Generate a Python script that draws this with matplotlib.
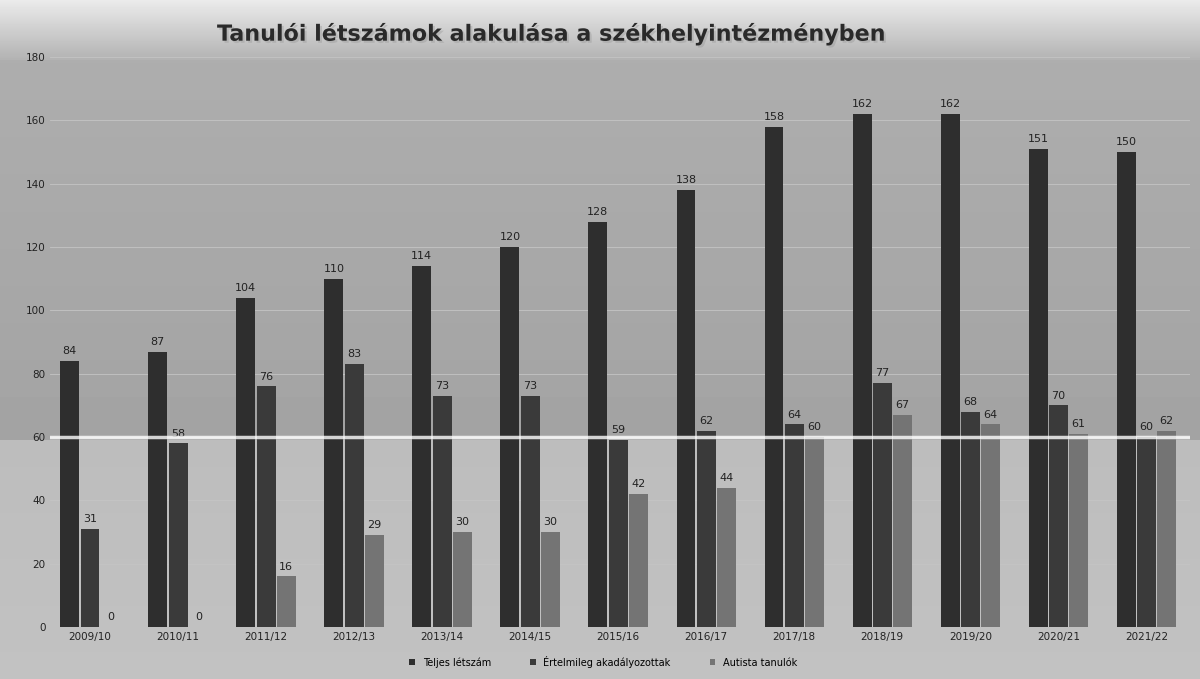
import numpy as np
import matplotlib
matplotlib.use("Agg")
from matplotlib import pyplot as plt
import matplotlib.patheffects as pe

years = ["2009/10", "2010/11", "2011/12", "2012/13", "2013/14", "2014/15", "2015/16",
         "2016/17", "2017/18", "2018/19", "2019/20", "2020/21", "2021/22"]
teljes = [84, 87, 104, 110, 114, 120, 128, 138, 158, 162, 162, 151, 150]
ertelmileg = [31, 58, 76, 83, 73, 73, 59, 62, 64, 77, 68, 70, 60]
autista = [0, 0, 16, 29, 30, 30, 42, 44, 60, 67, 64, 61, 62]

series_names = ["Teljes létszám", "Értelmileg akadályozottak", "Autista tanulók"]
colors = ["#2e2e2e", "#3a3a3a", "#747474"]

fig = plt.figure(figsize=(12, 6.79), dpi=100)

# background gradient (scanned grey look)
bg = fig.add_axes([0, 0, 1, 1], zorder=-10)
grad = np.concatenate([np.linspace(0.92, 0.70, 60), np.linspace(0.68, 0.64, 380),
                       np.linspace(0.74, 0.76, 239)])
bg.imshow(grad[:, None], aspect="auto", cmap="gray", vmin=0, vmax=1, extent=[0, 1, 0, 1])
bg.axis("off")

ax = fig.add_axes([0.042, 0.0766, 0.95, 0.8394])
ax.set_facecolor("none")

x = np.arange(len(years))
w = 0.215
off = 0.23
for i, (vals, name, c) in enumerate(zip([teljes, ertelmileg, autista], series_names, colors)):
    bars = ax.bar(x + (i - 1) * off, vals, width=w, color=c, label=name, zorder=3)
    for b, v in zip(bars, vals):
        ax.text(b.get_x() + b.get_width() / 2, v + 1.5, str(v), ha="center", va="bottom",
                fontsize=8, color="#222222", zorder=4)

ax.set_xlim(-0.45, len(years) - 0.5)
ax.set_ylim(0, 180)
ax.set_yticks(range(0, 181, 20))
ax.set_xticks(x)
ax.set_xticklabels(years)
ax.tick_params(axis="both", length=0, labelsize=7.5, colors="#222222")
ax.grid(axis="y", color="#c4c4c4", linewidth=0.6, zorder=0)
ax.axhline(60, color="white", linewidth=2.5, alpha=0.8, zorder=5)
for s in ax.spines.values():
    s.set_visible(False)

fig.text(0.46, 0.95, "Tanulói létszámok alakulása a székhelyintézményben", ha="center",
         va="center", fontsize=16, fontweight="bold", color="#2a2a2a",
         path_effects=[pe.withSimplePatchShadow(offset=(1.5, -1.5), shadow_rgbFace="#888888")])

ax.legend(loc="upper center", bbox_to_anchor=(0.485, -0.035), ncol=3, frameon=False,
          fontsize=7, handlelength=0.6, handleheight=0.6, columnspacing=4)

fig.savefig("out.png", dpi=100)
